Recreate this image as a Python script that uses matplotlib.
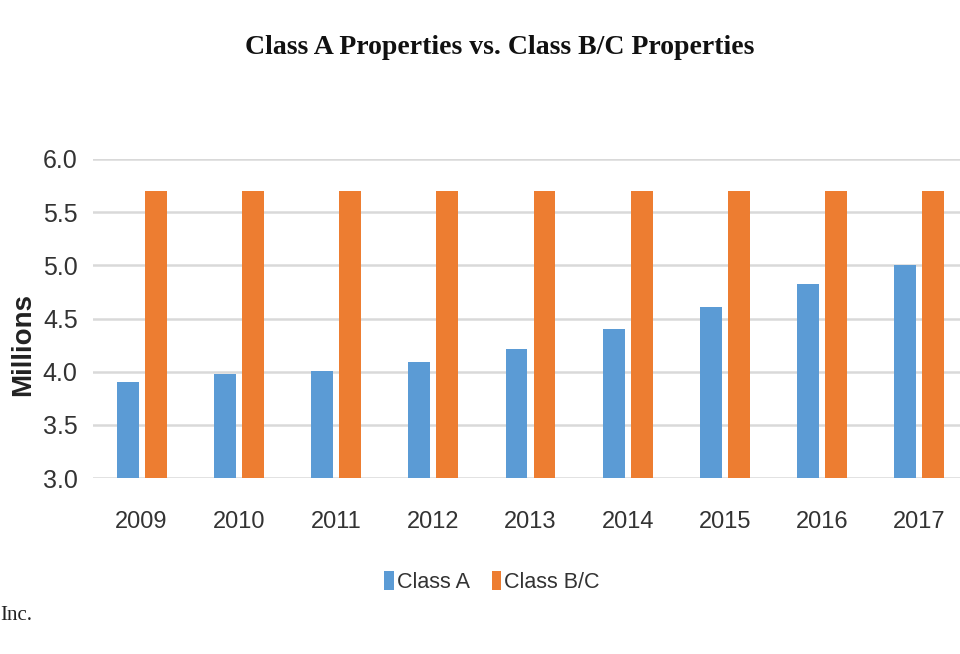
import matplotlib
matplotlib.use("Agg")
import matplotlib.pyplot as plt
import numpy as np

years = ["2009", "2010", "2011", "2012", "2013", "2014", "2015", "2016", "2017"]
class_a = [3.90, 3.98, 4.01, 4.09, 4.21, 4.40, 4.61, 4.82, 5.00]
class_bc = [5.70, 5.70, 5.70, 5.70, 5.70, 5.70, 5.70, 5.70, 5.70]

blue = "#5b9bd5"
orange = "#ed7d31"
grid = "#d9d9d9"
txt = "#333333"

fig = plt.figure(figsize=(9.6, 6.54), dpi=100)
ax = fig.add_axes([93 / 960, 1 - 478 / 654, 875 / 960, (478 - 159) / 654])

x = np.arange(len(years))
w = 0.226
off = 0.144
ax.bar(x - off, class_a, w, color=blue, label="Class A", zorder=3)
ax.bar(x + off, class_bc, w, color=orange, label="Class B/C", zorder=3)

ax.set_xlim(-0.5, len(years) - 0.5)
ax.set_ylim(3.0, 6.0)
yt = np.arange(3.0, 6.01, 0.5)
ax.set_yticks(yt)
ax.set_yticklabels([f"{v:.1f}" for v in yt])
ax.set_xticks(x)
ax.set_xticklabels(years)
ax.yaxis.grid(True, color=grid, linewidth=1.8, zorder=0)
for s in ax.spines.values():
    s.set_visible(False)
ax.tick_params(length=0)
ax.tick_params(axis="y", pad=11)
ax.tick_params(axis="x", pad=24)
for lab in ax.get_yticklabels():
    lab.set_fontfamily("Liberation Sans")
    lab.set_fontsize(18)
    lab.set_color(txt)
for lab in ax.get_xticklabels():
    lab.set_fontfamily("Liberation Sans")
    lab.set_fontsize(17)
    lab.set_color(txt)

fig.text(23 / 960, 1 - 345 / 654, "Millions", rotation=90, ha="center", va="center",
         fontsize=20, fontweight="bold", color="#222222", family="Liberation Sans")

fig.text(500 / 960, 1 - 47 / 654, "Class A Properties vs. Class B/C Properties",
         ha="center", va="center", fontsize=20, fontweight="bold",
         family="Liberation Serif", color="#111111")

leg = fig.legend(loc="center", bbox_to_anchor=(492 / 960, 1 - 582 / 654), ncol=2,
                 frameon=False, handlelength=0.45, handleheight=0.95, handletextpad=0.15,
                 columnspacing=1.0, prop={"family": "Liberation Sans", "size": 15.5})
for t in leg.get_texts():
    t.set_color(txt)

fig.text(0, 1 - 616 / 654, "Inc.", ha="left", va="center", fontsize=15,
         family="Liberation Serif", color="#222222")

fig.savefig("out.png", dpi=100)
